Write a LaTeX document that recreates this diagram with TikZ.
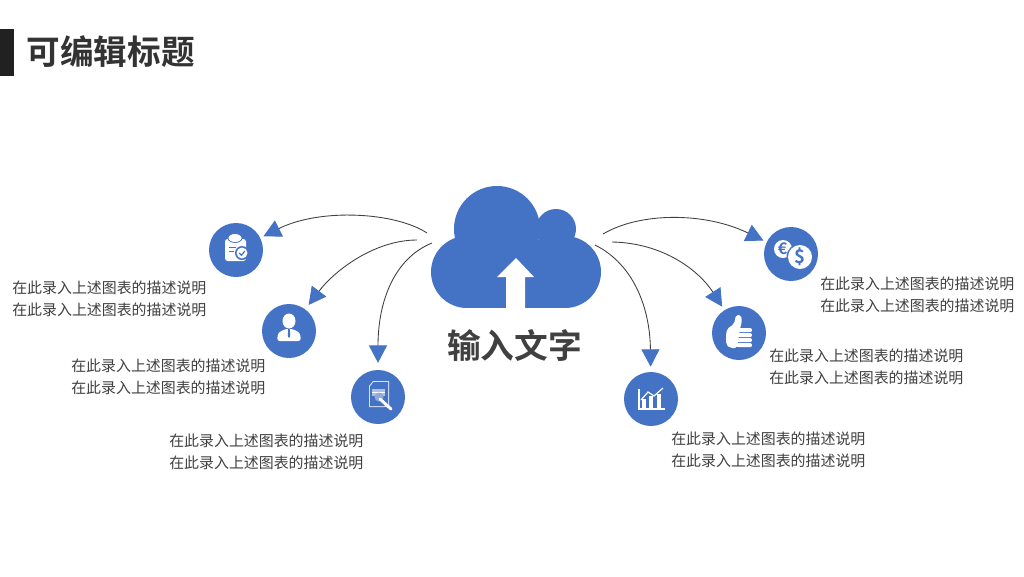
\documentclass[tikz,border=0pt]{standalone}
\usepackage{fontspec}
\usepackage{xcolor}
\usetikzlibrary{arrows.meta}
\newfontfamily\cjk{Noto Sans CJK SC}
\newfontfamily\cjkbold{Noto Sans CJK SC Bold}
\definecolor{cloudblue}{HTML}{4472C4}
\definecolor{inktext}{HTML}{404040}
\tikzset{
    badge/.style={circle, fill=cloudblue, minimum size=40.5pt, inner sep=0pt},
    desc/.style={anchor=west, align=left, inner sep=0pt, text=inktext, font={\cjk\fontsize{11.2}{16.5}\selectfont}},
    flow/.style={draw=inktext, line width=.65pt, -{Triangle[length=13pt, width=13.5pt, color=cloudblue]}},
    coin/.style={inner sep=0pt, text=cloudblue, font={\fontsize{#1}{#1}\selectfont}}
}
\begin{document}
\begin{tikzpicture}[x=.75pt, y=-.75pt]
    \useasboundingbox (0,0) rectangle (1024,576);
    \fill[white] (0,0) rectangle (1024,576);

    % title
    \fill[black!87] (0,29) rectangle (14,76);
    \node[inner sep=0pt, anchor=west, text=black!80, font={\cjkbold\fontsize{25.2}{30}\selectfont}] (title) at (26.5,52) {可编辑标题};

    % cloud
    \fill[cloudblue] (467,272) circle (36) (565,272) circle (36) (497,229) circle (43) (556,229) circle (20);
    \fill[cloudblue] (467,240) rectangle (565,308);
    \fill[white] (516,258) -- (534,277) -- (525,277) -- (525,309) -- (506,309) -- (506,277) -- (497,277) -- cycle;
    \node[inner sep=0pt, text=inktext, font={\cjkbold\fontsize{25.3}{30}\selectfont}] (head) at (514.5,345) {输入文字};

    \foreach \nm/\x/\y in {clip/236/250, user/289/331, doc/378/397, money/791/254, thumb/739/333, chart/651/399} {
        \node[badge] (\nm) at (\x,\y) {};
    }
    \foreach \nm/\x/\y in {a/427/233, b/417/240, c/432/243, d/603/234, e/612/242, f/595/245} {
        \coordinate (start\nm) at (\x,\y);
    }

    \draw[flow, shorten >=2.6pt] (starta) .. controls (395,212) and (320,208) .. (clip);
    \draw[flow, shorten >=4pt] (startb) .. controls (375,240) and (335,270) .. (user);
    \draw[flow, shorten >=5.2pt] (startc) .. controls (395,258) and (378,300) .. (doc);
    \draw[flow, shorten >=2.6pt] (startd) .. controls (640,212) and (705,212) .. (money);
    \draw[flow, shorten >=3pt] (starte) .. controls (665,243) and (700,272) .. (thumb);
    \draw[flow, shorten >=3.8pt] (startf) .. controls (635,265) and (650,310) .. (chart);

    \foreach \x/\y[count=\i] in {12/299, 71/377, 169/452, 820/295, 769/367, 671/450} {
        \node[desc] (desc\i) at (\x,\y) {在此录入上述图表的描述说明\\在此录入上述图表的描述说明};
    }

    % clipboard
    \begin{scope}[shift={(clip)}]
        \fill[white, rounded corners=2pt] (-11,-11) rectangle (10,11);
        \fill[white, draw=cloudblue, line width=.6pt] (-1,-12) ellipse (7 and 4.5);
        \draw[cloudblue, line width=.7pt] (-7,-3) -- (0,-3) (-7,1) -- (-2,1);
        \fill[cloudblue] (6,3) circle (7);
        \fill[white] (6,3) circle (5.5);
        \draw[cloudblue, line width=.9pt] (3.2,3) -- (5.5,5.3) -- (8.8,1);
    \end{scope}

    % user
    \begin{scope}[shift={(user)}]
        \fill[white] (0,-10) ellipse (6.5 and 7.5);
        \fill[white, rounded corners=2pt] (-12,10) -- (-11,2) -- (-4,-2) -- (4,-2) -- (11,2) -- (12,10) -- cycle;
        \fill[cloudblue] (-.8,-2) -- (.8,-2) -- (1.2,5) -- (0,7) -- (-1.2,5) -- cycle;
    \end{scope}

    % document
    \begin{scope}[shift={(doc)}]
        \fill[white!80!cloudblue] (-5,-16) -- (11,-16) -- (11,10) -- (-9,10) -- (-9,-11) -- cycle;
        \fill[cloudblue] (-4.5,-15) -- (10,-15) -- (10,9) -- (-8,9) -- (-8,-10.5) -- cycle;
        \fill[white!55!cloudblue] (-6,-8) rectangle (7,-1);
        \draw[white, line width=.6pt] (-6,-5) -- (7,-5);
        \fill[white!40!cloudblue] (1,0) circle (4.5);
        \draw[white, line width=2.2pt, line cap=round] (2,2) -- (13,12);
    \end{scope}

    % coins
    \begin{scope}[shift={(money)}]
        \fill[white] (-8,-5) circle (9);
        \node[coin=12] (euro) at (-8.5,-5) {\cjkbold €};
        \fill[cloudblue] (9,3) circle (13.5);
        \fill[white] (9,3) circle (12);
        \node[coin=14] (dollar) at (9,3) {\cjkbold \$};
    \end{scope}

    % thumb up
    \begin{scope}[shift={(thumb)}]
        \fill[white, rounded corners=1.5pt] (-13,2) -- (-12,-4) -- (-5,-9) -- (-3,-18) -- (2,-18) -- (3,-11) -- (1,-5) -- (-2,15) -- (-9,15) -- (-13,11) -- cycle;
        \foreach \y[count=\i] in {-5, 0, 5, 10} {
            \fill[white, rounded corners=1.5pt] (-3,\y) rectangle (13,\y+4.2);
        }
    \end{scope}

    % chart
    \begin{scope}[shift={(chart)}]
        \draw[white, line width=1pt] (-12,-10) -- (-12,10) -- (14,10);
        \foreach \x/\h[count=\i] in {-7/0, 0/-3, 8/-5} {
            \fill[white] (\x-2.2,\h) rectangle (\x+2.2,9);
        }
        \draw[white, line width=.9pt] (-10,1) -- (-3,-7) -- (3,-3) -- (12,-11);
    \end{scope}
\end{tikzpicture}
\end{document}
